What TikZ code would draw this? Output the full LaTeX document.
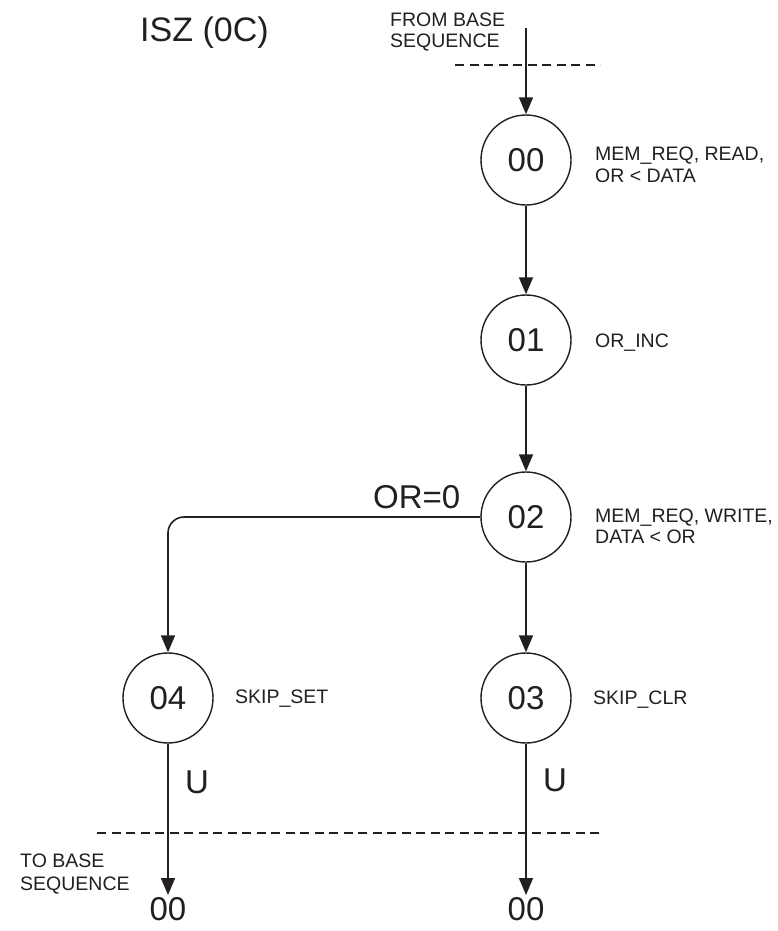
\documentclass[tikz,border=0pt]{standalone}
\usepackage{fontspec}
\setmainfont{Liberation Sans}
\usetikzlibrary{arrows.meta}
\definecolor{ink}{RGB}{35,31,32}
\begin{document}
\begin{tikzpicture}[x=1pt,y=-1pt,
  state/.style={draw=ink,circle,minimum size=90pt,inner sep=0pt,line width=1.4pt,font=\fontsize{33}{36}\selectfont,text=ink},
  note/.style={anchor=base west,font=\fontsize{19.5}{22}\selectfont,text=ink,inner sep=0pt},
  big/.style={font=\fontsize{33}{36}\selectfont,text=ink,inner sep=0pt},
  flow/.style={draw=ink,line width=1.6pt,-{Triangle[length=17pt,width=14pt]}},
  cut/.style={draw=ink,line width=1.4pt,dash pattern=on 9pt off 5.5pt}]
\useasboundingbox (0,0) rectangle (777,931);

% title
\node[anchor=base west,inner sep=0pt,font=\fontsize{34}{38}\selectfont,text=ink] (title) at (140,42) {ISZ (0C)};

% states
\node[state] (s00) at (526,160) {00};
\node[state] (s01) at (526,340) {01};
\node[state] (s02) at (526,517) {02};
\node[state] (s03) at (526,698) {03};
\node[state] (s04) at (168,698) {04};

% entry
\coordinate (in0) at (526,28);
\node[note] (from1) at (390,27) {FROM BASE};
\node[note] (from2) at (390,48) {SEQUENCE};
\coordinate (cutA) at (455,65);
\coordinate (cutB) at (600,65);
\draw[cut] (cutA) -- (cutB);

% connectors
\draw[flow] (in0) -- (s00.north);
\draw[flow] (s00) -- (s01);
\draw[flow] (s01) -- (s02);
\draw[flow] (s02) -- (s03);
\draw[flow,rounded corners=16pt] (s02.west) -| (s04.north);

% exits
\coordinate (out4) at (168,895);
\coordinate (out3) at (526,895);
\draw[flow] (s04) -- (out4);
\draw[flow] (s03) -- (out3);
\coordinate (cutC) at (97,833);
\coordinate (cutD) at (600,833);
\draw[cut] (cutC) -- (cutD);

\node[big] (t4) at (168,909) {00};
\node[big] (t3) at (526,909) {00};
\node[big,anchor=base west] (u4) at (185,793) {U};
\node[big,anchor=base west] (u3) at (543,791) {U};
\node[big,anchor=base west] (cond) at (373,508) {OR=0};

\node[note] (to1) at (20,867) {TO BASE};
\node[note] (to2) at (20,890) {SEQUENCE};

% actions
\node[note] (a00a) at (595,160) {MEM\_REQ, READ,};
\node[note] (a00b) at (595,182) {OR < DATA};
\node[note] (a01) at (595,347) {OR\_INC};
\node[note] (a02a) at (595,522) {MEM\_REQ, WRITE,};
\node[note] (a02b) at (595,543) {DATA < OR};
\node[note] (a04) at (235,703) {SKIP\_SET};
\node[note] (a03) at (593,704) {SKIP\_CLR};
\end{tikzpicture}
\end{document}
